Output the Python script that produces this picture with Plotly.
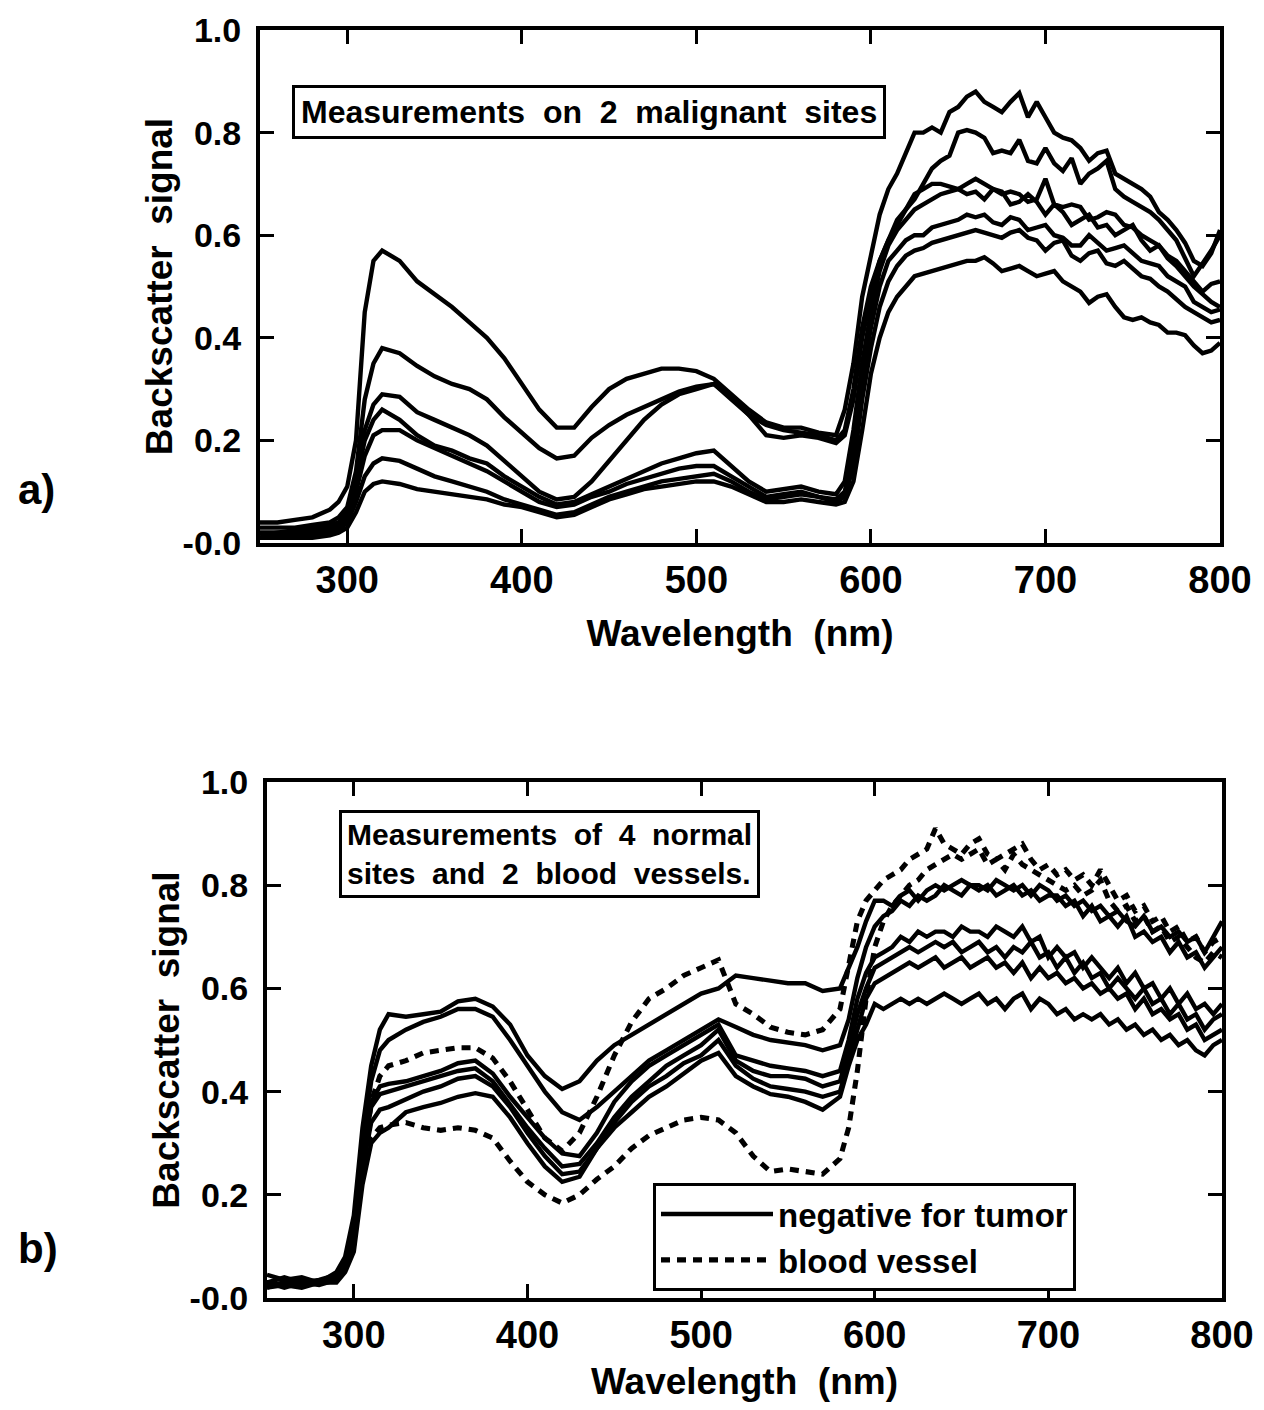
import plotly.graph_objects as go

# ---------------- wavelength grids ----------------
wl_uv = [250, 260, 270, 280, 290, 295, 300, 305, 310, 315, 320,
         330, 340, 350, 360, 370, 380, 390, 400, 410, 420, 430, 440, 450, 460,
         470, 480, 490, 500, 510, 520, 530, 540, 550, 560, 570, 580,
         585, 590, 595]
wl_red = list(range(600, 805, 5))
wavelength = wl_uv + wl_red

# ---------------- panel a) malignant sites ----------------
a1_uv = [0.04, 0.04, 0.045, 0.05, 0.065, 0.08, 0.11, 0.20, 0.45, 0.55, 0.57,
         0.55, 0.51, 0.485, 0.46, 0.43, 0.40, 0.36, 0.31, 0.26, 0.225, 0.225, 0.265, 0.30, 0.32,
         0.33, 0.34, 0.34, 0.335, 0.32, 0.29, 0.26, 0.235, 0.225, 0.225, 0.215, 0.21,
         0.26, 0.35, 0.48]
a1_red = [0.56, 0.64, 0.69, 0.72, 0.76, 0.80,
          0.80, 0.81, 0.80, 0.84, 0.85, 0.87, 0.88, 0.86, 0.85, 0.84, 0.86, 0.877, 0.83, 0.86,
          0.83, 0.80, 0.79, 0.785, 0.77, 0.745, 0.76, 0.765, 0.72, 0.71, 0.70, 0.69, 0.675,
          0.645, 0.63, 0.61, 0.585, 0.55, 0.54, 0.565, 0.61]
a2_uv = [0.03, 0.03, 0.03, 0.035, 0.04, 0.05, 0.07, 0.14, 0.28, 0.35, 0.38,
         0.37, 0.345, 0.325, 0.31, 0.30, 0.28, 0.245, 0.215, 0.185, 0.165, 0.17, 0.205, 0.23, 0.25,
         0.265, 0.28, 0.295, 0.305, 0.31, 0.28, 0.25, 0.23, 0.22, 0.215, 0.21, 0.20,
         0.22, 0.30, 0.42]
a2_red = [0.50, 0.55, 0.59, 0.63, 0.65, 0.67,
          0.70, 0.73, 0.745, 0.755, 0.80, 0.805, 0.80, 0.79, 0.76, 0.765, 0.76, 0.786, 0.745, 0.74,
          0.77, 0.74, 0.725, 0.75, 0.70, 0.72, 0.73, 0.745, 0.69, 0.675, 0.665, 0.655, 0.645,
          0.63, 0.61, 0.59, 0.555, 0.52, 0.545, 0.57, 0.60]
a3_uv = [0.02, 0.02, 0.025, 0.03, 0.035, 0.04, 0.06, 0.13, 0.22, 0.27, 0.29,
         0.285, 0.255, 0.24, 0.225, 0.21, 0.19, 0.16, 0.13, 0.10, 0.085, 0.09, 0.12, 0.16, 0.20,
         0.24, 0.27, 0.29, 0.30, 0.31, 0.285, 0.25, 0.21, 0.205, 0.21, 0.205, 0.195,
         0.21, 0.28, 0.40]
a3_red = [0.48, 0.55, 0.59, 0.62, 0.65, 0.68,
          0.69, 0.70, 0.70, 0.695, 0.69, 0.70, 0.71, 0.70, 0.69, 0.68, 0.685, 0.68, 0.665, 0.67,
          0.71, 0.66, 0.655, 0.66, 0.655, 0.63, 0.635, 0.645, 0.64, 0.62, 0.615, 0.60, 0.59,
          0.58, 0.56, 0.55, 0.53, 0.51, 0.49, 0.505, 0.51]
a4_uv = [0.02, 0.02, 0.02, 0.025, 0.03, 0.035, 0.05, 0.12, 0.20, 0.24, 0.26,
         0.24, 0.21, 0.19, 0.18, 0.165, 0.155, 0.13, 0.11, 0.09, 0.075, 0.08, 0.095, 0.11, 0.125,
         0.14, 0.155, 0.165, 0.175, 0.18, 0.15, 0.12, 0.10, 0.105, 0.11, 0.10, 0.095,
         0.12, 0.22, 0.35]
a4_red = [0.45, 0.53, 0.58, 0.61, 0.63, 0.65,
          0.66, 0.67, 0.68, 0.685, 0.69, 0.68, 0.685, 0.67, 0.69, 0.685, 0.66, 0.665, 0.68, 0.665,
          0.64, 0.66, 0.645, 0.62, 0.63, 0.64, 0.615, 0.62, 0.60, 0.61, 0.62, 0.59, 0.57,
          0.58, 0.555, 0.54, 0.52, 0.50, 0.485, 0.47, 0.46]
a5_uv = [0.015, 0.02, 0.02, 0.02, 0.025, 0.03, 0.045, 0.10, 0.17, 0.21, 0.22,
         0.22, 0.20, 0.185, 0.17, 0.155, 0.14, 0.12, 0.10, 0.08, 0.07, 0.075, 0.09, 0.10, 0.115,
         0.125, 0.135, 0.145, 0.15, 0.15, 0.13, 0.11, 0.09, 0.095, 0.10, 0.09, 0.085,
         0.10, 0.18, 0.32]
a5_red = [0.42, 0.50, 0.55, 0.57, 0.59, 0.60,
          0.60, 0.615, 0.62, 0.625, 0.63, 0.64, 0.635, 0.64, 0.625, 0.62, 0.635, 0.63, 0.61, 0.615,
          0.62, 0.60, 0.595, 0.58, 0.58, 0.60, 0.585, 0.57, 0.575, 0.58, 0.565, 0.55, 0.545,
          0.54, 0.52, 0.51, 0.50, 0.47, 0.46, 0.45, 0.455]
a6_uv = [0.01, 0.015, 0.015, 0.015, 0.02, 0.025, 0.04, 0.08, 0.13, 0.155, 0.165,
         0.16, 0.145, 0.13, 0.12, 0.11, 0.10, 0.085, 0.075, 0.065, 0.055, 0.06, 0.075, 0.09, 0.10,
         0.11, 0.12, 0.125, 0.13, 0.135, 0.12, 0.10, 0.085, 0.09, 0.095, 0.09, 0.08,
         0.09, 0.15, 0.28]
a6_red = [0.38, 0.46, 0.51, 0.54, 0.56, 0.57,
          0.575, 0.585, 0.59, 0.595, 0.60, 0.605, 0.61, 0.605, 0.60, 0.595, 0.605, 0.61, 0.595, 0.59,
          0.57, 0.585, 0.59, 0.56, 0.55, 0.565, 0.57, 0.545, 0.54, 0.55, 0.535, 0.52, 0.515,
          0.50, 0.49, 0.475, 0.46, 0.45, 0.44, 0.43, 0.435]
a7_uv = [0.01, 0.01, 0.01, 0.01, 0.015, 0.02, 0.03, 0.06, 0.10, 0.115, 0.12,
         0.115, 0.105, 0.10, 0.095, 0.09, 0.085, 0.075, 0.07, 0.06, 0.05, 0.055, 0.07, 0.085, 0.095,
         0.105, 0.11, 0.115, 0.12, 0.12, 0.11, 0.095, 0.08, 0.08, 0.085, 0.08, 0.075,
         0.08, 0.12, 0.22]
a7_red = [0.33, 0.40, 0.45, 0.48, 0.50, 0.52,
          0.525, 0.53, 0.535, 0.54, 0.545, 0.55, 0.55, 0.557, 0.545, 0.53, 0.535, 0.54, 0.53, 0.52,
          0.525, 0.53, 0.51, 0.50, 0.49, 0.468, 0.48, 0.485, 0.46, 0.44, 0.435, 0.44, 0.43,
          0.425, 0.41, 0.41, 0.405, 0.385, 0.37, 0.375, 0.39]

# ---------------- panel b) normal sites (solid) and blood vessels (dashed) ----------------
n1_uv = [0.045, 0.035, 0.04, 0.03, 0.05, 0.08, 0.16, 0.33, 0.45, 0.52, 0.55,
         0.545, 0.55, 0.555, 0.575, 0.58, 0.565, 0.53, 0.47, 0.43, 0.405, 0.42, 0.46, 0.49, 0.51,
         0.53, 0.55, 0.57, 0.59, 0.60, 0.625, 0.62, 0.615, 0.61, 0.61, 0.595, 0.60,
         0.64, 0.68, 0.73]
n1_red = [0.77, 0.77, 0.76, 0.78, 0.79, 0.77, 0.79, 0.80, 0.79, 0.80,
          0.81, 0.80, 0.80, 0.79, 0.81, 0.80, 0.79, 0.80, 0.78, 0.80,
          0.79, 0.77, 0.78, 0.76, 0.77, 0.75, 0.76, 0.74, 0.75, 0.73,
          0.72, 0.74, 0.71, 0.72, 0.70, 0.71, 0.69, 0.70, 0.67, 0.70, 0.73]
n2_uv = [0.03, 0.04, 0.03, 0.035, 0.045, 0.07, 0.14, 0.30, 0.42, 0.48, 0.50,
         0.52, 0.535, 0.545, 0.56, 0.56, 0.545, 0.50, 0.45, 0.40, 0.36, 0.345, 0.37, 0.40, 0.43,
         0.46, 0.48, 0.50, 0.52, 0.54, 0.525, 0.51, 0.50, 0.495, 0.49, 0.48, 0.49,
         0.54, 0.62, 0.68]
n2_red = [0.72, 0.74, 0.75, 0.77, 0.76, 0.78, 0.77, 0.78, 0.80, 0.79,
          0.78, 0.80, 0.79, 0.80, 0.78, 0.79, 0.80, 0.78, 0.79, 0.77,
          0.78, 0.78, 0.76, 0.77, 0.74, 0.76, 0.73, 0.74, 0.72, 0.74,
          0.70, 0.71, 0.69, 0.70, 0.67, 0.69, 0.66, 0.67, 0.64, 0.66, 0.68]
n3_uv = [0.025, 0.03, 0.035, 0.03, 0.04, 0.06, 0.12, 0.28, 0.38, 0.41, 0.415,
         0.42, 0.43, 0.44, 0.455, 0.46, 0.435, 0.39, 0.35, 0.31, 0.28, 0.275, 0.32, 0.38, 0.42,
         0.45, 0.47, 0.49, 0.51, 0.53, 0.47, 0.46, 0.45, 0.445, 0.44, 0.43, 0.44,
         0.50, 0.58, 0.63]
n3_red = [0.66, 0.67, 0.68, 0.70, 0.69, 0.71, 0.70, 0.71, 0.71, 0.70,
          0.72, 0.71, 0.71, 0.70, 0.72, 0.71, 0.70, 0.72, 0.69, 0.70,
          0.66, 0.68, 0.66, 0.67, 0.64, 0.66, 0.64, 0.62, 0.64, 0.61,
          0.63, 0.60, 0.61, 0.58, 0.60, 0.57, 0.59, 0.56, 0.57, 0.55, 0.57]
n4_uv = [0.02, 0.03, 0.025, 0.03, 0.035, 0.06, 0.11, 0.27, 0.37, 0.395, 0.40,
         0.41, 0.42, 0.43, 0.44, 0.445, 0.42, 0.375, 0.33, 0.29, 0.255, 0.26, 0.30, 0.35, 0.39,
         0.42, 0.45, 0.47, 0.49, 0.52, 0.46, 0.44, 0.43, 0.43, 0.425, 0.41, 0.42,
         0.48, 0.55, 0.60]
n4_red = [0.64, 0.65, 0.66, 0.67, 0.68, 0.67, 0.68, 0.69, 0.68, 0.69,
          0.67, 0.68, 0.69, 0.67, 0.68, 0.66, 0.68, 0.67, 0.69, 0.66,
          0.67, 0.64, 0.66, 0.63, 0.65, 0.62, 0.63, 0.60, 0.62, 0.60,
          0.58, 0.60, 0.57, 0.58, 0.55, 0.57, 0.54, 0.55, 0.52, 0.54, 0.55]
n5_uv = [0.03, 0.02, 0.03, 0.025, 0.035, 0.055, 0.10, 0.25, 0.34, 0.365, 0.37,
         0.385, 0.40, 0.41, 0.425, 0.43, 0.41, 0.37, 0.32, 0.275, 0.24, 0.245, 0.29, 0.34, 0.38,
         0.41, 0.43, 0.455, 0.47, 0.50, 0.45, 0.425, 0.41, 0.405, 0.40, 0.39, 0.40,
         0.46, 0.52, 0.58]
n5_red = [0.61, 0.62, 0.63, 0.64, 0.65, 0.64, 0.65, 0.66, 0.64, 0.65,
          0.66, 0.64, 0.65, 0.66, 0.64, 0.65, 0.63, 0.65, 0.62, 0.64,
          0.62, 0.63, 0.61, 0.62, 0.60, 0.61, 0.59, 0.60, 0.58, 0.59,
          0.56, 0.58, 0.55, 0.56, 0.54, 0.55, 0.52, 0.53, 0.50, 0.51, 0.52]
n6_uv = [0.02, 0.025, 0.02, 0.03, 0.03, 0.05, 0.09, 0.22, 0.30, 0.32, 0.33,
         0.36, 0.37, 0.378, 0.39, 0.397, 0.39, 0.35, 0.30, 0.255, 0.225, 0.235, 0.29, 0.33, 0.36,
         0.39, 0.41, 0.435, 0.46, 0.475, 0.43, 0.41, 0.395, 0.39, 0.38, 0.365, 0.39,
         0.45, 0.50, 0.53]
n6_red = [0.57, 0.56, 0.57, 0.58, 0.57, 0.58, 0.57, 0.58, 0.59, 0.58,
          0.57, 0.58, 0.59, 0.57, 0.58, 0.56, 0.58, 0.59, 0.56, 0.58,
          0.57, 0.55, 0.56, 0.54, 0.55, 0.54, 0.55, 0.53, 0.54, 0.52,
          0.53, 0.51, 0.52, 0.50, 0.51, 0.49, 0.50, 0.48, 0.47, 0.49, 0.50]
v1_uv = [0.03, 0.03, 0.025, 0.03, 0.04, 0.06, 0.12, 0.26, 0.38, 0.43, 0.45,
         0.46, 0.475, 0.48, 0.485, 0.485, 0.465, 0.42, 0.365, 0.31, 0.285, 0.32, 0.39, 0.47, 0.535,
         0.58, 0.60, 0.625, 0.64, 0.655, 0.57, 0.55, 0.525, 0.515, 0.51, 0.52, 0.56,
         0.65, 0.73, 0.77]
v1_red = [0.79, 0.81, 0.82, 0.83, 0.85, 0.86, 0.87, 0.91, 0.88, 0.87,
          0.86, 0.88, 0.89, 0.86, 0.85, 0.86, 0.87, 0.88, 0.85, 0.83,
          0.84, 0.82, 0.83, 0.81, 0.82, 0.80, 0.83, 0.80, 0.77, 0.78,
          0.75, 0.76, 0.73, 0.74, 0.71, 0.72, 0.69, 0.70, 0.67, 0.69, 0.70]
v2_uv = [0.03, 0.025, 0.03, 0.03, 0.04, 0.06, 0.12, 0.24, 0.31, 0.33, 0.335,
         0.34, 0.33, 0.325, 0.33, 0.325, 0.31, 0.265, 0.225, 0.20, 0.184, 0.20, 0.23, 0.255, 0.29,
         0.315, 0.33, 0.345, 0.35, 0.345, 0.32, 0.275, 0.245, 0.25, 0.245, 0.24, 0.27,
         0.33, 0.44, 0.58]
v2_red = [0.68, 0.73, 0.76, 0.78, 0.80, 0.81, 0.83, 0.84, 0.85, 0.86,
          0.85, 0.86, 0.87, 0.84, 0.85, 0.83, 0.86, 0.84, 0.83, 0.82,
          0.81, 0.80, 0.79, 0.80, 0.78, 0.79, 0.81, 0.77, 0.75, 0.76,
          0.73, 0.74, 0.71, 0.72, 0.69, 0.70, 0.68, 0.66, 0.65, 0.67, 0.66]

y_tickvals = [0.0, 0.2, 0.4, 0.6, 0.8, 1.0]
y_ticktext = ["-0.0", "0.2", "0.4", "0.6", "0.8", "1.0"]
x_tickvals = [300, 400, 500, 600, 700, 800]
x_ticktext = ["300", "400", "500", "600", "700", "800"]

panel_a = [a1_uv + a1_red, a2_uv + a2_red, a3_uv + a3_red, a4_uv + a4_red,
           a5_uv + a5_red, a6_uv + a6_red, a7_uv + a7_red]
panel_b_normal = [n1_uv + n1_red, n2_uv + n2_red, n3_uv + n3_red,
                  n4_uv + n4_red, n5_uv + n5_red, n6_uv + n6_red]
panel_b_vessel = [v1_uv + v1_red, v2_uv + v2_red]

for s in panel_a + panel_b_normal + panel_b_vessel:
    assert len(s) == len(wavelength), len(s)

FONT = "Liberation Sans, Arial, Helvetica, sans-serif"
LW = 4.4
SP = "\u00a0\u00a0"

fig = go.Figure()
for s in panel_a:
    fig.add_trace(go.Scatter(x=wavelength, y=s, mode="lines", xaxis="x", yaxis="y",
                             line=dict(color="black", width=LW), showlegend=False))
for i, s in enumerate(panel_b_normal):
    fig.add_trace(go.Scatter(x=wavelength, y=s, mode="lines", xaxis="x2", yaxis="y2",
                             name="negative for tumor", legendgroup="neg",
                             line=dict(color="black", width=LW), showlegend=(i == 0)))
for i, s in enumerate(panel_b_vessel):
    fig.add_trace(go.Scatter(x=wavelength, y=s, mode="lines", xaxis="x2", yaxis="y2",
                             name="blood vessel", legendgroup="ves",
                             line=dict(color="black", width=LW + 0.7, dash="9px,7px"),
                             showlegend=(i == 0)))

# page has an 8px body margin: figure is laid out in screen pixels minus that offset
OFF = 8
W, H = 1264 - 2 * OFF, 1410 - 2 * OFF


def px(x):
    return (x - OFF) / W


def py(y):
    return 1 - (y - OFF) / H


def xaxis(domain, anchor):
    return dict(domain=domain, anchor=anchor, range=[250, 800],
                tickvals=x_tickvals, ticktext=x_ticktext, automargin=False,
                ticklabeloverflow="allow",
                ticks="inside", ticklen=14, tickwidth=3, tickcolor="black",
                showline=True, linewidth=4, linecolor="black", mirror="ticks",
                showgrid=False, zeroline=False, ticklabelstandoff=0,
                tickfont=dict(family=FONT, size=38, color="black", weight="bold"),
                title=dict(text="Wavelength" + SP + "(nm)", standoff=22,
                           font=dict(family=FONT, size=37, color="black", weight="bold")))


def yaxis(domain, anchor):
    return dict(domain=domain, anchor=anchor, range=[0, 1.0],
                tickvals=y_tickvals, ticktext=y_ticktext, automargin=False,
                ticks="inside", ticklen=14, tickwidth=3, tickcolor="black",
                showline=True, linewidth=4, linecolor="black", mirror="ticks",
                showgrid=False, zeroline=False, ticklabelstandoff=8,
                tickfont=dict(family=FONT, size=34, color="black", weight="bold"),
                title=dict(text="Backscatter" + SP + "signal", standoff=0,
                           font=dict(family=FONT, size=37, color="black", weight="bold")))


fig.update_layout(
    width=W, height=H,
    margin=dict(l=0, r=0, t=0, b=0, autoexpand=False),
    paper_bgcolor="white", plot_bgcolor="white",
    xaxis=xaxis([px(260), px(1220)], "y"),
    yaxis=yaxis([py(543), py(30)], "x"),
    xaxis2=xaxis([px(267), px(1222)], "y2"),
    yaxis2=yaxis([py(1298), py(782)], "x2"),
    legend=dict(x=px(653), y=py(1183), xanchor="left", yanchor="top",
                bgcolor="white", bordercolor="black", borderwidth=3,
                font=dict(family=FONT, size=33, color="black", weight="bold"),
                itemwidth=112, tracegroupgap=0),
    showlegend=True,
    annotations=[
        dict(text="Measurements  on  2  malignant  sites", xref="paper", yref="paper",
             x=px(292), y=py(85), xanchor="left", yanchor="top", showarrow=False,
             font=dict(family=FONT, size=32, color="black", weight="bold"),
             bordercolor="black", borderwidth=3, borderpad=6, bgcolor="white"),
        dict(text="Measurements  of  4  normal<br>sites  and  2  blood  vessels.",
             xref="paper", yref="paper", align="left",
             x=px(339), y=py(810), xanchor="left", yanchor="top", showarrow=False,
             font=dict(family=FONT, size=30, color="black", weight="bold"),
             bordercolor="black", borderwidth=3, borderpad=5, bgcolor="white"),
        dict(text="a)", xref="paper", yref="paper", x=px(36), y=py(490),
             xanchor="center", yanchor="middle", showarrow=False,
             font=dict(family=FONT, size=42, color="black", weight="bold")),
        dict(text="b)", xref="paper", yref="paper", x=px(38), y=py(1248),
             xanchor="center", yanchor="middle", showarrow=False,
             font=dict(family=FONT, size=42, color="black", weight="bold")),
    ],
)

fig.write_html("out.html")
